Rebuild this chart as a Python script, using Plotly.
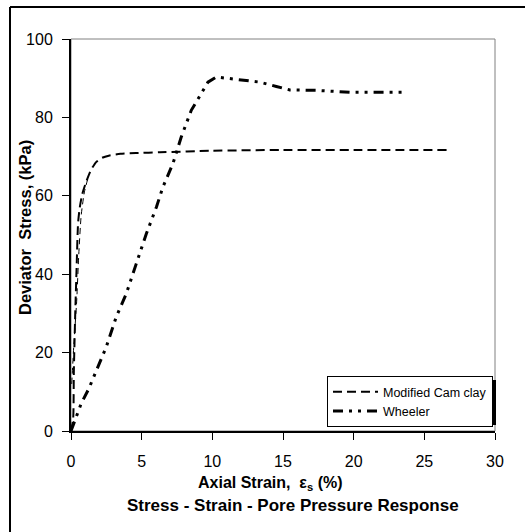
import plotly.graph_objects as go

# ---- data ----
camclay_x = [0, 0.15, 0.2, 0.3, 0.4, 0.5, 0.62, 0.8, 1.07, 1.4, 1.78, 2.2, 2.73, 3.5, 4.6, 6.3, 10, 15, 20, 26.6]
camclay_y = [0, 3, 15, 30, 42, 53, 57, 60.5, 63.5, 66.5, 68.6, 69.7, 70.3, 70.7, 70.9, 71.1, 71.5, 71.7, 71.7, 71.7]

camclay_thin_x = [0.05, 0.2, 0.4, 0.55, 0.72, 0.95, 1.2]
camclay_thin_y = [12, 22, 33, 45, 55, 61, 64.5]

wheeler_x = [0, 0.3, 0.72, 1.26, 1.78, 2.49, 3.2, 3.91, 4.62, 5.33, 6.04, 6.5, 7.21, 7.8,
             8.51, 9.1, 9.69, 10.28, 11.46, 13.35, 14.53, 15.48, 17.37, 19.73, 23.5]
wheeler_y = [0, 3, 7, 10.8, 15.5, 21.4, 29.1, 35, 42.7, 50.3, 57.1, 62.2, 68.2, 75,
             81.8, 85.5, 89, 90.3, 89.8, 89, 87.9, 87, 86.9, 86.4, 86.4]

x_ticks = [0, 5, 10, 15, 20, 25, 30]
y_ticks = [0, 20, 40, 60, 80, 100]

FONT = "Liberation Sans, Arial, sans-serif"

fig = go.Figure()
fig.add_trace(go.Scatter(
    x=camclay_x, y=camclay_y, mode="lines", name="Modified Cam clay",
    line=dict(color="black", width=2, dash="9px,5px", shape="spline", smoothing=0.6)))
fig.add_trace(go.Scatter(
    x=camclay_thin_x, y=camclay_thin_y, mode="lines", showlegend=False,
    line=dict(color="black", width=1, dash="6px,4px", shape="spline", smoothing=0.6)))
fig.add_trace(go.Scatter(
    x=wheeler_x, y=wheeler_y, mode="lines", name="Wheeler",
    line=dict(color="black", width=3, dash="10px,6px,3px,6px,3px,6px")))

L, R, T, B = 71, 30, 39, 101
W, H = 525, 532
pw, ph = W - L - R, H - T - B

def px(xp):
    return (xp - L) / pw

def py(yp):
    return (H - B - yp) / ph

shapes = [
    # gray top/right frame
    dict(type="rect", xref="paper", yref="paper", x0=0, x1=1, y0=0, y1=1,
         line=dict(color="#808080", width=1), layer="below"),
    # outer border (left and top edges visible)
    dict(type="line", xref="paper", yref="paper", x0=px(10), x1=px(10), y0=py(560), y1=py(7),
         line=dict(color="black", width=2)),
    dict(type="line", xref="paper", yref="paper", x0=px(10), x1=px(560), y0=py(7), y1=py(7),
         line=dict(color="black", width=2)),
    # legend shadow
    dict(type="rect", xref="paper", yref="paper", x0=px(331), x1=px(496), y0=py(425), y1=py(380),
         line=dict(width=0), fillcolor="black", layer="above"),
]

annotations = [
    dict(text="<b>Axial Strain,  ε<sub>s</sub> (%)</b>", xref="paper", yref="paper",
         x=px(270), y=py(483), showarrow=False, font=dict(family=FONT, size=16, color="black"),
         xanchor="center", yanchor="middle"),
    dict(text="<b>Stress - Strain - Pore Pressure Response</b>", xref="paper", yref="paper",
         x=px(293), y=py(505), showarrow=False, font=dict(family=FONT, size=17, color="black"),
         xanchor="center", yanchor="middle"),
    dict(text="<b>Deviator  Stress, (kPa)</b>", xref="paper", yref="paper",
         x=px(25), y=py(228), showarrow=False, textangle=-90,
         font=dict(family=FONT, size=16.5, color="black"),
         xanchor="center", yanchor="middle"),
]

fig.update_layout(
    width=W, height=H,
    margin=dict(l=L, r=R, t=T, b=B, pad=0),
    paper_bgcolor="white", plot_bgcolor="white",
    font=dict(family=FONT, color="black"),
    showlegend=True,
    legend=dict(x=px(327), y=py(376), xanchor="left", yanchor="top",
                bgcolor="white", bordercolor="black", borderwidth=1,
                itemwidth=45,
                font=dict(family=FONT, size=12.5, color="black"),
                tracegroupgap=0),
    xaxis=dict(range=[0, 30], tickvals=x_ticks, ticktext=[str(v) for v in x_ticks],
               showgrid=False, zeroline=False, showline=True, linecolor="black", linewidth=2,
               ticks="outside", ticklen=7, tickwidth=1, tickcolor="black",
               ticklabelstandoff=8,
               tickfont=dict(family=FONT, size=16, color="black")),
    yaxis=dict(range=[0, 100], tickvals=y_ticks, ticktext=[str(v) for v in y_ticks],
               showgrid=False, zeroline=False, showline=True, linecolor="black", linewidth=2,
               ticks="outside", ticklen=7, tickwidth=1, tickcolor="black",
               ticklabelstandoff=6,
               tickfont=dict(family=FONT, size=16, color="black")),
    shapes=shapes,
    annotations=annotations,
)

fig.write_html("out.html")
